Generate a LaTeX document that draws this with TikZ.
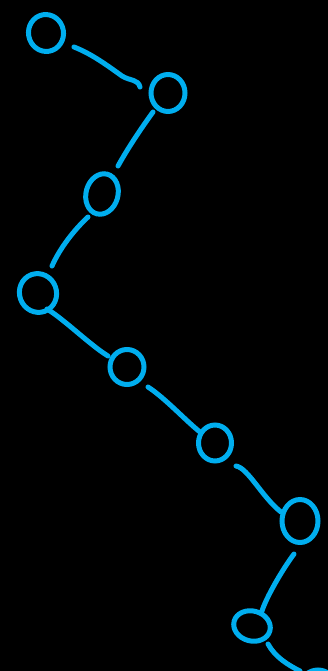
\documentclass[tikz,border=0pt]{standalone}
\usetikzlibrary{shapes.geometric,calc}
\definecolor{pen}{HTML}{00AEEF}
\begin{document}
\begin{tikzpicture}[x=1pt,y=-1pt,
  dot/.style={ellipse,draw=pen,line width=5pt,inner sep=0pt},
  link/.style={draw=pen,line width=5pt,line cap=round}]
\fill[black] (0,0) rectangle (328,671);
\useasboundingbox (0,0) rectangle (328,671);
\node[dot,minimum width=35pt,minimum height=37pt,rotate=10] (n1) at (46,33) {};
\node[dot,minimum width=34pt,minimum height=37pt] (n2) at (168,93) {};
\node[dot,minimum width=32pt,minimum height=41pt,rotate=-15] (n3) at (102,194) {};
\node[dot,minimum width=37pt,minimum height=39pt,rotate=20] (n4) at (38,293) {};
\node[dot,minimum width=34pt,minimum height=35pt] (n5) at (127,367) {};
\node[dot,minimum width=33pt,minimum height=36pt] (n6) at (215,443) {};
\node[dot,minimum width=36pt,minimum height=43pt] (n7) at (300,521) {};
\node[dot,minimum width=37pt,minimum height=30pt,rotate=-15] (n8) at (252,626) {};
\node[dot,minimum width=34pt,minimum height=32pt] (n9) at (318,686) {};
\draw[link] ($(n1)+(28,14)$) .. controls (92,54) and (108,66) .. (122,76)
  .. controls (130,81) and (138,79) .. ($(n2)+(-28,-6)$);
\draw[link] ($(n2)+(-15,19)$) .. controls (140,130) and (128,148) .. ($(n3)+(16,-28)$);
\draw[link] ($(n3)+(-14,23)$) .. controls (74,230) and (60,248) .. ($(n4)+(14,-27)$);
\draw[link] ($(n4)+(9,16)$) .. controls (65,320) and (90,345) .. ($(n5)+(-19,-11)$);
\draw[link] ($(n5)+(21,20)$) .. controls (165,398) and (185,420) .. ($(n6)+(-15,-11)$);
\draw[link] ($(n6)+(21,23)$) .. controls (248,468) and (262,497) .. ($(n7)+(-19,-9)$);
\draw[link] ($(n7)+(-6,33)$) .. controls (282,570) and (266,598) .. ($(n8)+(10,-15)$);
\draw[link] ($(n8)+(16,18)$) .. controls (275,657) and (288,665) .. ($(n9)+(-18,-15)$);
\end{tikzpicture}
\end{document}
